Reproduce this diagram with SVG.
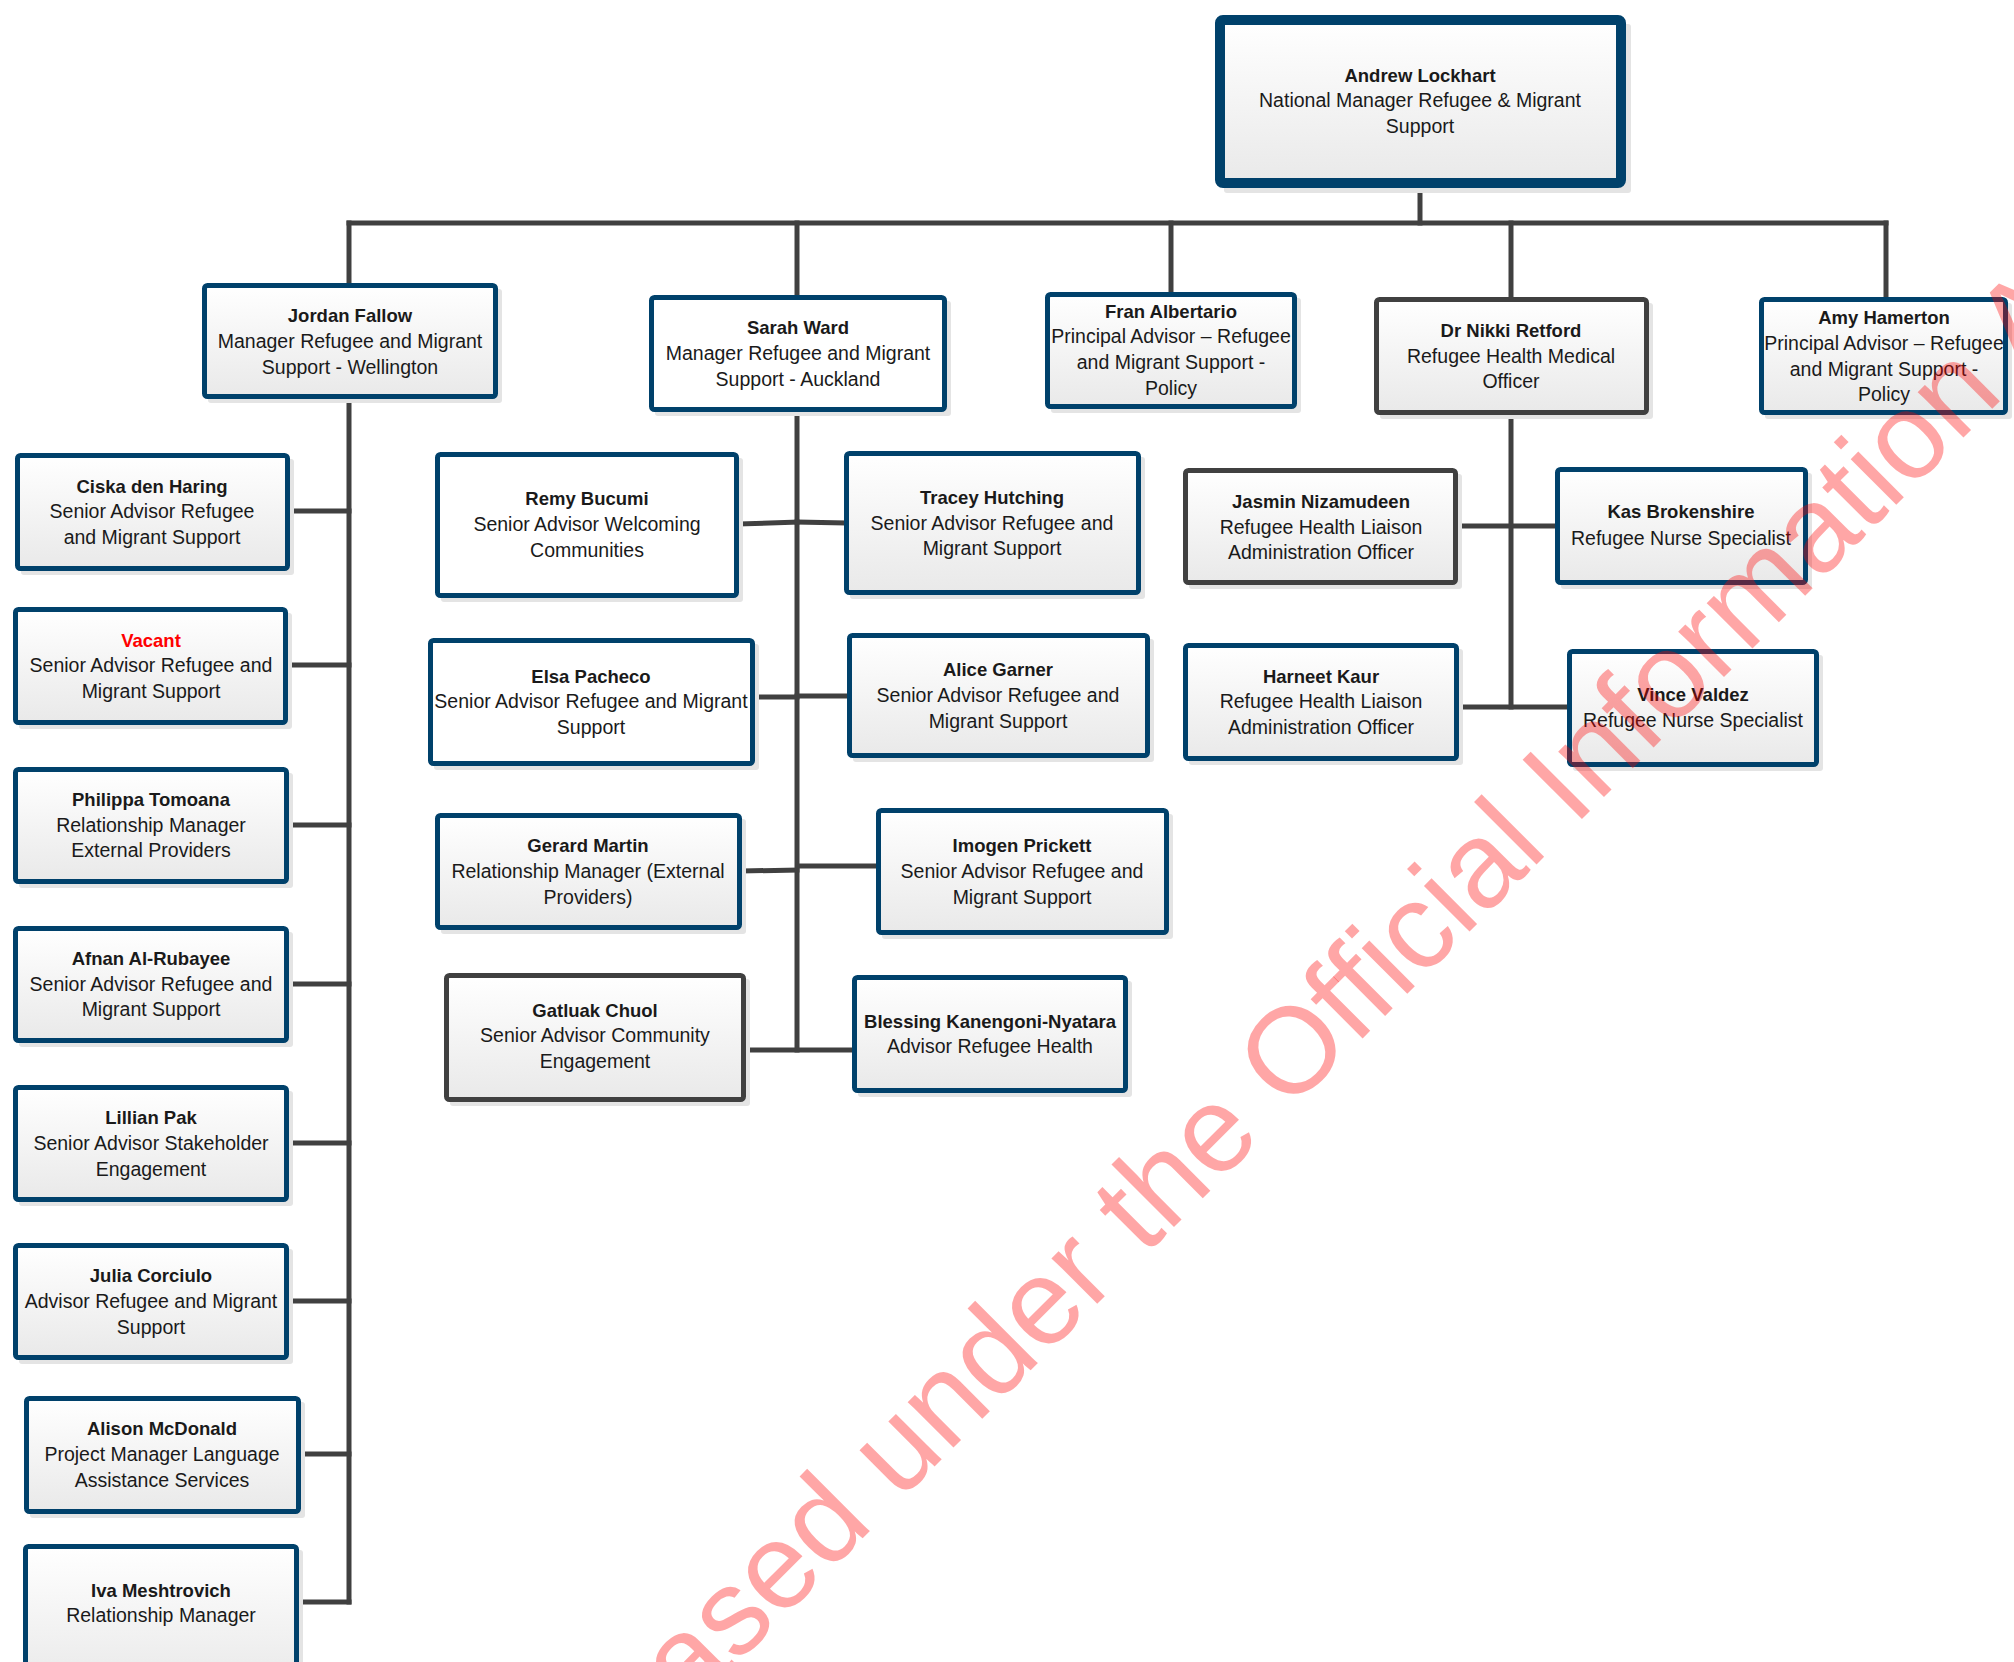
<svg xmlns="http://www.w3.org/2000/svg" width="2014" height="1662" viewBox="0 0 2014 1662">
<defs>
<linearGradient id="g" x1="0" y1="0" x2="0" y2="1">
<stop offset="0" stop-color="#ffffff"/>
<stop offset="1" stop-color="#e9e9e9"/>
</linearGradient>
</defs>
<style>
.sh{fill:#e4e4e4}
.box{fill:url(#g);stroke:#00416b;stroke-width:5}
.w{fill:#ffffff}
.gr{stroke:#404040}
.top{stroke-width:10}
.t{font-family:"Liberation Sans",Arial,sans-serif;font-size:19.5px;fill:#1a1a1a;text-anchor:middle}
.n{font-weight:bold;font-size:18.5px}
.red{fill:#ff0000}
#connectors line{stroke:#404040;stroke-width:5;stroke-linecap:square}
.wm{font-family:"Liberation Sans",Arial,sans-serif;font-size:122px;fill:#ff0000;fill-opacity:0.35}
</style>
<rect width="2014" height="1662" fill="#ffffff"/>
<g id="connectors">
<line x1="1420" y1="188" x2="1420" y2="223"/>
<line x1="349" y1="223" x2="1886" y2="223"/>
<line x1="349" y1="223" x2="349" y2="283"/>
<line x1="797" y1="223" x2="797" y2="295"/>
<line x1="1171" y1="223" x2="1171" y2="292"/>
<line x1="1511" y1="223" x2="1511" y2="297"/>
<line x1="1886" y1="223" x2="1886" y2="297"/>
<line x1="349" y1="399" x2="349" y2="1602"/>
<line x1="290" y1="511" x2="349" y2="511"/>
<line x1="288" y1="665" x2="349" y2="665"/>
<line x1="289" y1="825" x2="349" y2="825"/>
<line x1="289" y1="984" x2="349" y2="984"/>
<line x1="289" y1="1143" x2="349" y2="1143"/>
<line x1="289" y1="1301" x2="349" y2="1301"/>
<line x1="301" y1="1454" x2="349" y2="1454"/>
<line x1="299" y1="1602" x2="349" y2="1602"/>
<line x1="797" y1="412" x2="797" y2="1050"/>
<line x1="739" y1="524" x2="797" y2="522"/>
<line x1="797" y1="522" x2="844" y2="523"/>
<line x1="755" y1="697" x2="797" y2="697"/>
<line x1="797" y1="696" x2="847" y2="696"/>
<line x1="742" y1="871" x2="797" y2="870"/>
<line x1="800" y1="866" x2="876" y2="866"/>
<line x1="746" y1="1050" x2="852" y2="1050"/>
<line x1="1511" y1="415" x2="1511" y2="707"/>
<line x1="1458" y1="526" x2="1555" y2="526"/>
<line x1="1459" y1="707" x2="1567" y2="707"/>
</g>
<g id="andrew-lockhart">
<rect class="sh" x="1224" y="24" width="407" height="169" rx="3"/>
<rect class="box top" x="1220" y="20" width="401" height="163" rx="3"/>
<text class="t"><tspan class="n" x="1420" y="82">Andrew Lockhart</tspan><tspan x="1420" y="107">National Manager Refugee &amp; Migrant</tspan><tspan x="1420" y="133">Support</tspan></text>
</g>
<g id="jordan-fallow">
<rect class="sh" x="208" y="289" width="294" height="114" rx="3"/>
<rect class="box" x="204.5" y="285.5" width="291" height="111" rx="3"/>
<text class="t"><tspan class="n" x="350" y="322">Jordan Fallow</tspan><tspan x="350" y="348">Manager Refugee and Migrant</tspan><tspan x="350" y="374">Support - Wellington</tspan></text>
</g>
<g id="sarah-ward">
<rect class="sh" x="655" y="301" width="296" height="115" rx="3"/>
<rect class="box w" x="651.5" y="297.5" width="293" height="112" rx="3"/>
<text class="t"><tspan class="n" x="798" y="334">Sarah Ward</tspan><tspan x="798" y="360">Manager Refugee and Migrant</tspan><tspan x="798" y="386">Support - Auckland</tspan></text>
</g>
<g id="fran-albertario">
<rect class="sh" x="1051" y="298" width="250" height="115" rx="3"/>
<rect class="box" x="1047.5" y="294.5" width="247" height="112" rx="3"/>
<text class="t"><tspan class="n" x="1171" y="318">Fran Albertario</tspan><tspan x="1171" y="343">Principal Advisor – Refugee</tspan><tspan x="1171" y="369">and Migrant Support -</tspan><tspan x="1171" y="395">Policy</tspan></text>
</g>
<g id="nikki-retford">
<rect class="sh" x="1380" y="303" width="273" height="116" rx="3"/>
<rect class="box gr" x="1376.5" y="299.5" width="270" height="113" rx="3"/>
<text class="t"><tspan class="n" x="1511" y="337">Dr Nikki Retford</tspan><tspan x="1511" y="363">Refugee Health Medical</tspan><tspan x="1511" y="388">Officer</tspan></text>
</g>
<g id="amy-hamerton">
<rect class="sh" x="1765" y="303" width="247" height="116" rx="3"/>
<rect class="box" x="1761.5" y="299.5" width="244" height="113" rx="3"/>
<text class="t"><tspan class="n" x="1884" y="324">Amy Hamerton</tspan><tspan x="1884" y="350">Principal Advisor – Refugee</tspan><tspan x="1884" y="376">and Migrant Support -</tspan><tspan x="1884" y="401">Policy</tspan></text>
</g>
<g id="ciska-den-haring">
<rect class="sh" x="21" y="459" width="273" height="116" rx="3"/>
<rect class="box" x="17.5" y="455.5" width="270" height="113" rx="3"/>
<text class="t"><tspan class="n" x="152" y="493">Ciska den Haring</tspan><tspan x="152" y="518">Senior Advisor Refugee</tspan><tspan x="152" y="544">and Migrant Support</tspan></text>
</g>
<g id="vacant">
<rect class="sh" x="19" y="613" width="273" height="116" rx="3"/>
<rect class="box" x="15.5" y="609.5" width="270" height="113" rx="3"/>
<text class="t"><tspan class="n red" x="151" y="647">Vacant</tspan><tspan x="151" y="672">Senior Advisor Refugee and</tspan><tspan x="151" y="698">Migrant Support</tspan></text>
</g>
<g id="philippa-tomoana">
<rect class="sh" x="19" y="773" width="274" height="115" rx="3"/>
<rect class="box" x="15.5" y="769.5" width="271" height="112" rx="3"/>
<text class="t"><tspan class="n" x="151" y="806">Philippa Tomoana</tspan><tspan x="151" y="832">Relationship Manager</tspan><tspan x="151" y="857">External Providers</tspan></text>
</g>
<g id="afnan-al-rubayee">
<rect class="sh" x="19" y="932" width="274" height="115" rx="3"/>
<rect class="box" x="15.5" y="928.5" width="271" height="112" rx="3"/>
<text class="t"><tspan class="n" x="151" y="965">Afnan Al-Rubayee</tspan><tspan x="151" y="991">Senior Advisor Refugee and</tspan><tspan x="151" y="1016">Migrant Support</tspan></text>
</g>
<g id="lillian-pak">
<rect class="sh" x="19" y="1091" width="274" height="115" rx="3"/>
<rect class="box" x="15.5" y="1087.5" width="271" height="112" rx="3"/>
<text class="t"><tspan class="n" x="151" y="1124">Lillian Pak</tspan><tspan x="151" y="1150">Senior Advisor Stakeholder</tspan><tspan x="151" y="1176">Engagement</tspan></text>
</g>
<g id="julia-corciulo">
<rect class="sh" x="19" y="1249" width="274" height="115" rx="3"/>
<rect class="box" x="15.5" y="1245.5" width="271" height="112" rx="3"/>
<text class="t"><tspan class="n" x="151" y="1282">Julia Corciulo</tspan><tspan x="151" y="1308">Advisor Refugee and Migrant</tspan><tspan x="151" y="1334">Support</tspan></text>
</g>
<g id="alison-mcdonald">
<rect class="sh" x="30" y="1402" width="275" height="116" rx="3"/>
<rect class="box" x="26.5" y="1398.5" width="272" height="113" rx="3"/>
<text class="t"><tspan class="n" x="162" y="1435">Alison McDonald</tspan><tspan x="162" y="1461">Project Manager Language</tspan><tspan x="162" y="1487">Assistance Services</tspan></text>
</g>
<g id="iva-meshtrovich">
<rect class="sh" x="29" y="1550" width="274" height="143" rx="3"/>
<rect class="box" x="25.5" y="1546.5" width="271" height="140" rx="3"/>
<text class="t"><tspan class="n" x="161" y="1597">Iva Meshtrovich</tspan><tspan x="161" y="1622">Relationship Manager</tspan></text>
</g>
<g id="remy-bucumi">
<rect class="sh" x="441" y="458" width="302" height="144" rx="3"/>
<rect class="box w" x="437.5" y="454.5" width="299" height="141" rx="3"/>
<text class="t"><tspan class="n" x="587" y="505">Remy Bucumi</tspan><tspan x="587" y="531">Senior Advisor Welcoming</tspan><tspan x="587" y="557">Communities</tspan></text>
</g>
<g id="tracey-hutching">
<rect class="sh" x="850" y="457" width="295" height="142" rx="3"/>
<rect class="box" x="846.5" y="453.5" width="292" height="139" rx="3"/>
<text class="t"><tspan class="n" x="992" y="504">Tracey Hutching</tspan><tspan x="992" y="530">Senior Advisor Refugee and</tspan><tspan x="992" y="555">Migrant Support</tspan></text>
</g>
<g id="elsa-pacheco">
<rect class="sh" x="434" y="644" width="325" height="126" rx="3"/>
<rect class="box w" x="430.5" y="640.5" width="322" height="123" rx="3"/>
<text class="t"><tspan class="n" x="591" y="683">Elsa Pacheco</tspan><tspan x="591" y="708">Senior Advisor Refugee and Migrant</tspan><tspan x="591" y="734">Support</tspan></text>
</g>
<g id="alice-garner">
<rect class="sh" x="853" y="639" width="301" height="123" rx="3"/>
<rect class="box" x="849.5" y="635.5" width="298" height="120" rx="3"/>
<text class="t"><tspan class="n" x="998" y="676">Alice Garner</tspan><tspan x="998" y="702">Senior Advisor Refugee and</tspan><tspan x="998" y="728">Migrant Support</tspan></text>
</g>
<g id="gerard-martin">
<rect class="sh" x="441" y="819" width="305" height="115" rx="3"/>
<rect class="box" x="437.5" y="815.5" width="302" height="112" rx="3"/>
<text class="t"><tspan class="n" x="588" y="852">Gerard Martin</tspan><tspan x="588" y="878">Relationship Manager (External</tspan><tspan x="588" y="904">Providers)</tspan></text>
</g>
<g id="imogen-prickett">
<rect class="sh" x="882" y="814" width="291" height="125" rx="3"/>
<rect class="box" x="878.5" y="810.5" width="288" height="122" rx="3"/>
<text class="t"><tspan class="n" x="1022" y="852">Imogen Prickett</tspan><tspan x="1022" y="878">Senior Advisor Refugee and</tspan><tspan x="1022" y="904">Migrant Support</tspan></text>
</g>
<g id="gatluak-chuol">
<rect class="sh" x="450" y="979" width="300" height="127" rx="3"/>
<rect class="box gr" x="446.5" y="975.5" width="297" height="124" rx="3"/>
<text class="t"><tspan class="n" x="595" y="1017">Gatluak Chuol</tspan><tspan x="595" y="1042">Senior Advisor Community</tspan><tspan x="595" y="1068">Engagement</tspan></text>
</g>
<g id="blessing-kanengoni-nyatara">
<rect class="sh" x="858" y="981" width="274" height="116" rx="3"/>
<rect class="box" x="854.5" y="977.5" width="271" height="113" rx="3"/>
<text class="t"><tspan class="n" x="990" y="1028">Blessing Kanengoni-Nyatara</tspan><tspan x="990" y="1053">Advisor Refugee Health</tspan></text>
</g>
<g id="jasmin-nizamudeen">
<rect class="sh" x="1189" y="474" width="273" height="115" rx="3"/>
<rect class="box gr" x="1185.5" y="470.5" width="270" height="112" rx="3"/>
<text class="t"><tspan class="n" x="1321" y="508">Jasmin Nizamudeen</tspan><tspan x="1321" y="534">Refugee Health Liaison</tspan><tspan x="1321" y="559">Administration Officer</tspan></text>
</g>
<g id="kas-brokenshire">
<rect class="sh" x="1561" y="473" width="251" height="116" rx="3"/>
<rect class="box" x="1557.5" y="469.5" width="248" height="113" rx="3"/>
<text class="t"><tspan class="n" x="1681" y="518">Kas Brokenshire</tspan><tspan x="1681" y="545">Refugee Nurse Specialist</tspan></text>
</g>
<g id="harneet-kaur">
<rect class="sh" x="1189" y="649" width="274" height="116" rx="3"/>
<rect class="box" x="1185.5" y="645.5" width="271" height="113" rx="3"/>
<text class="t"><tspan class="n" x="1321" y="683">Harneet Kaur</tspan><tspan x="1321" y="708">Refugee Health Liaison</tspan><tspan x="1321" y="734">Administration Officer</tspan></text>
</g>
<g id="vince-valdez">
<rect class="sh" x="1573" y="655" width="250" height="116" rx="3"/>
<rect class="box" x="1569.5" y="651.5" width="247" height="113" rx="3"/>
<text class="t"><tspan class="n" x="1693" y="701">Vince Valdez</tspan><tspan x="1693" y="727">Refugee Nurse Specialist</tspan></text>
</g>
<text class="wm" x="511" y="1890" transform="rotate(-45 511 1890)">Released under the Official Information Act</text>
</svg>
